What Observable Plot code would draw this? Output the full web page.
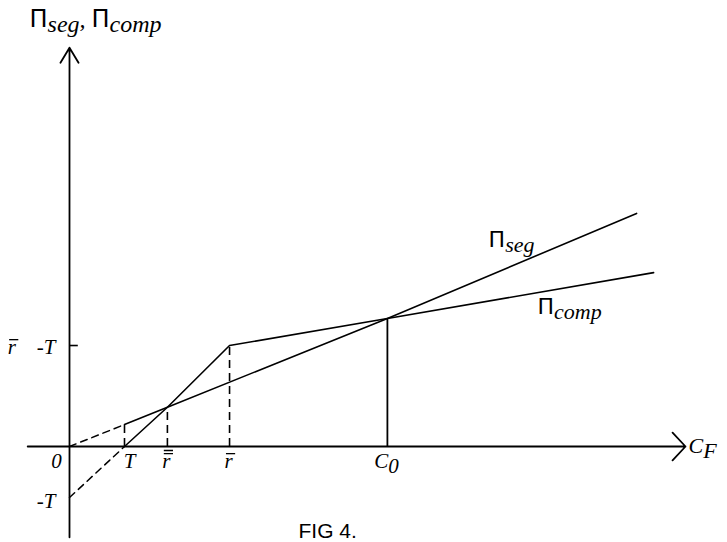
<!DOCTYPE html>
<html><head><meta charset="utf-8">
<script src="https://cdn.jsdelivr.net/npm/d3@7"></script>
<script src="https://cdn.jsdelivr.net/npm/@observablehq/plot@0.6"></script>
<style>body{margin:0;background:#fff} svg{display:block}</style>
</head><body><div id="chart"></div>
<script>
// Key abscissae (in units of T)
const T = 1, rbb = 1.78, rb = 2.91, C0 = 5.78;
const rbMinusT = 1.98;
// Axes extents (data units)
const xAxis = [{x1: -0.76, y1: 0, x2: 11.2, y2: 0}];
const yAxis = [{x1: 0, y1: -1.78, x2: 0, y2: 7.82}];
// Π_seg
const segDashed = [{x: 0, y: 0}, {x: 1, y: 0.43}];
const segSolid = [{x: 1, y: 0.43}, {x: 1.78, y: 0.77}, {x: 5.78, y: 2.51}, {x: 10.31, y: 4.57}];
// Π_comp
const compDashed = [{x: 0, y: -1}, {x: 1, y: 0}];
const compSolid = [{x: 1, y: 0}, {x: 1.78, y: 0.77}, {x: 2.91, y: 1.98}, {x: 5.78, y: 2.51}, {x: 10.62, y: 3.41}];
// Guides
const dashedGuides = [{x: T, y: 0.43}, {x: rbb, y: 0.77}, {x: rb, y: rbMinusT}];
const solidGuides = [{x: C0, y: 2.51}];
const yTicks = [{y: rbMinusT}];
// Labels ("r^{n}" = r with n overbars, "_{..}" = subscript)
const xTickLabels = [
  {x: 0, text: "0", dx: -13},
  {x: T, text: "T", dx: 5},
  {x: rbb, text: "r^{2}", dx: -1},
  {x: rb, text: "r^{1}", dx: -1},
  {x: C0, text: "C_{0}", dx: -1}
];
const yTickLabels = [
  {y: rbMinusT, text: "r^{1}\u2003-T", dy: 8},
  {y: -1, text: "-T", dy: 10}
];
const lineLabels = [
  {x: 7.62, y: 3.92, text: "Π_{seg}"},
  {x: 8.51, y: 2.59, text: "Π_{comp}"}
];
const yTitle = [{x: -0.727, y: 8.235, text: "Π_{seg}, Π_{comp}"}];
const xTitle = [{x: 11.2, y: 0, text: "C_{F}"}];
const caption = ["FIG 4."];

const serif = "'Liberation Serif', 'Times New Roman', serif";
const sans = "'DejaVu Sans', sans-serif";
const txt = {fontFamily: serif, fontStyle: "italic", fill: "black", lineAnchor: "bottom"};

const plot = Plot.plot({
  width: 727, height: 542, margin: 0,
  x: {domain: [-69/55, 658/55], axis: null},
  y: {domain: [-96/51, 446/51], axis: null},
  marks: [
    Plot.arrow(xAxis, {x1: "x1", y1: "y1", x2: "x2", y2: "y2", stroke: "black", strokeWidth: 1.8, headAngle: 94, headLength: 15.8}),
    Plot.arrow(yAxis, {x1: "x1", y1: "y1", x2: "x2", y2: "y2", stroke: "black", strokeWidth: 1.8, headAngle: 62, headLength: 14.6}),
    Plot.ruleY(yTicks, {y: "y", x1: 0, x2: 0.16, stroke: "black", strokeWidth: 1.6}),
    Plot.ruleX(dashedGuides, {x: "x", y1: 0, y2: "y", stroke: "black", strokeWidth: 1.6, strokeDasharray: "8,5"}),
    Plot.ruleX(solidGuides, {x: "x", y1: 0, y2: "y", stroke: "black", strokeWidth: 1.8}),
    Plot.line(segDashed, {x: "x", y: "y", stroke: "black", strokeWidth: 1.5, strokeDasharray: "7,5"}),
    Plot.line(compDashed, {x: "x", y: "y", stroke: "black", strokeWidth: 1.5, strokeDasharray: "7,5"}),
    Plot.line(segSolid, {x: "x", y: "y", stroke: "black", strokeWidth: 1.6}),
    Plot.line(compSolid, {x: "x", y: "y", stroke: "black", strokeWidth: 1.6}),
    ...xTickLabels.map(d => Plot.text([d], {...txt, x: "x", y: 0, text: "text", dx: d.dx, dy: 21, textAnchor: "middle", fontSize: 21})),
    ...yTickLabels.map(d => Plot.text([d], {...txt, x: 0, y: "y", text: "text", dx: -14, dy: d.dy, textAnchor: "end", fontSize: 21})),
    Plot.text(lineLabels, {...txt, x: "x", y: "y", text: "text", textAnchor: "start", fontSize: 22}),
    Plot.text(yTitle, {...txt, x: "x", y: "y", text: "text", textAnchor: "start", fontSize: 24}),
    Plot.text(xTitle, {...txt, x: "x", y: "y", text: "text", dx: 3, dy: 6, textAnchor: "start", fontSize: 22}),
    Plot.text(caption, {frameAnchor: "bottom-left", dx: 298, dy: -5, fontFamily: "'Liberation Sans Narrow', 'Liberation Sans', Arial, sans-serif", fontSize: 21, fill: "black"})
  ]
});
document.getElementById("chart").appendChild(plot);

// Turn "Π", "_{..}" and "r^{n}" markup into styled tspans / overbars
const NS = "http://www.w3.org/2000/svg";
d3.select(plot).selectAll("text").each(function() {
  const s = this.textContent;
  if (!/Π|_\{|\^\{/.test(s)) return;
  const fs = parseFloat(getComputedStyle(this).fontSize) || 20;
  const sub = Math.round(fs * 0.22);
  this.textContent = "";
  let shift = 0, idx = 0;
  const bars = [];
  for (const p of s.split(/(Π|_\{[^}]*\}|\^\{\d\})/).filter(d => d)) {
    const t = document.createElementNS(NS, "tspan");
    if (p === "Π") {
      t.textContent = "Π";
      t.setAttribute("font-family", sans);
      t.setAttribute("font-style", "normal");
      if (shift) t.setAttribute("dy", -shift);
      shift = 0;
    } else if (p.startsWith("_{")) {
      t.textContent = p.slice(2, -1);
      t.setAttribute("dy", sub - shift);
      shift = sub;
    } else if (p.startsWith("^{")) {
      bars.push({i: idx - 1, n: +p.slice(2, -1)});
      continue;
    } else {
      t.textContent = p;
      if (shift) t.setAttribute("dy", -shift);
      shift = 0;
    }
    idx += t.textContent.length;
    this.appendChild(t);
  }
  for (const b of bars) {
    const a = this.getStartPositionOfChar(b.i), e = this.getEndPositionOfChar(b.i);
    let dPath = "";
    for (let k = 0; k < b.n; k++) {
      const yy = a.y - fs * (0.66 + 0.15 * k);
      dPath += `M${a.x + 1.5},${yy}H${e.x + 2.5}`;
    }
    const path = document.createElementNS(NS, "path");
    path.setAttribute("d", dPath);
    path.setAttribute("stroke", "black");
    path.setAttribute("stroke-width", 1.3);
    path.setAttribute("fill", "none");
    const tr = this.getAttribute("transform");
    if (tr) path.setAttribute("transform", tr);
    this.parentNode.appendChild(path);
  }
});
</script>
</body></html>
